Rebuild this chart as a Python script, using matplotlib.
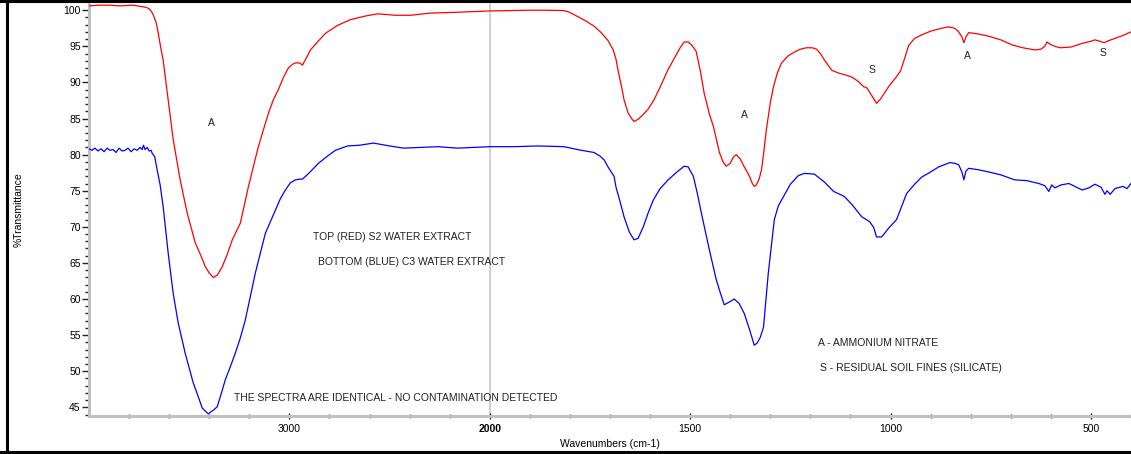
import numpy as np
import matplotlib
matplotlib.use("Agg")
import matplotlib.pyplot as plt
from matplotlib.ticker import FixedLocator, NullFormatter
from matplotlib.lines import Line2D

plt.rcParams['font.family'] = ['Liberation Sans', 'DejaVu Sans']

# ---- data ----
red_wn = [4000, 3950, 3900, 3845, 3780, 3735, 3715, 3700, 3690, 3680, 3665, 3655, 3640, 3630,
          3605, 3580, 3545, 3510, 3470, 3440, 3420, 3400, 3380, 3360, 3335, 3310, 3285, 3245,
          3205, 3155, 3105, 3080, 3055, 3030, 3005, 2985, 2970, 2950, 2935, 2915,
          2895, 2860, 2820, 2760, 2695, 2620, 2560, 2470, 2395, 2300, 2180, 2000, 1900, 1865,
          1815, 1800, 1780, 1760, 1740, 1722, 1705, 1692, 1685, 1680, 1672, 1665, 1655, 1645,
          1640, 1630, 1620, 1605, 1590, 1572, 1555, 1542, 1525, 1515, 1505, 1495, 1485, 1475,
          1465, 1452, 1442, 1427, 1418, 1410, 1400, 1392, 1385, 1375, 1365, 1352, 1345, 1340,
          1335, 1328, 1322, 1316, 1310, 1300, 1292, 1282, 1272, 1255, 1240, 1225, 1210, 1195,
          1185, 1175, 1165, 1147, 1130, 1110, 1095, 1080, 1067, 1060, 1055, 1045, 1035, 1025,
          1005, 985, 975, 965, 955, 940, 922, 900, 880, 865, 855, 840, 830, 822,
          817, 812, 805, 780, 755, 725, 697, 670, 640, 625, 615, 610, 602, 590, 577, 550,
          522, 500, 490, 478, 467, 455, 440, 420, 400]
red_t = [100.6, 100.7, 100.7, 100.6, 100.7, 100.5, 100.4, 100.2, 99.9, 99.4, 98.3, 96.9, 94.5, 93.1,
         87.6, 82.1, 76.5, 71.9, 67.8, 65.9, 64.5, 63.6, 63.0, 63.3, 64.5, 66.2, 68.2, 70.5,
         75.5, 81.1, 85.7, 87.6, 89.0, 90.7, 92.0, 92.5, 92.7, 92.7, 92.4, 93.4,
         94.5, 95.6, 96.8, 97.9, 98.7, 99.2, 99.5, 99.3, 99.3, 99.6, 99.7, 99.9, 100.0, 100.0,
         99.95, 99.7, 99.1, 98.5, 97.8, 96.9, 95.8, 94.5, 93.2, 91.7, 89.6, 87.6, 85.8, 84.9,
         84.6, 84.9, 85.4, 86.3, 87.6, 89.7, 91.8, 93.1, 94.8, 95.6, 95.6, 95.1, 94.3, 91.7,
         88.5, 85.6, 83.9, 80.3, 79.0, 78.4, 78.8, 79.7, 80.0, 79.4, 78.3, 77.0, 76.0, 75.6,
         75.8, 76.6, 77.9, 80.5, 83.4, 87.2, 89.4, 91.4, 92.7, 93.7, 94.2, 94.6, 94.8, 94.8,
         94.6, 94.0, 93.1, 91.7, 91.3, 91.0, 90.7, 90.1, 89.4, 89.3, 88.9, 88.0, 87.1, 87.7,
         89.4, 90.8, 91.6, 93.3, 95.1, 96.1, 96.6, 97.1, 97.4, 97.6, 97.7, 97.5, 97.0, 96.3,
         95.5, 96.3, 96.9, 96.7, 96.4, 95.9, 95.2, 94.8, 94.5, 94.6, 95.0, 95.6, 95.3, 95.0,
         94.8, 94.9, 95.4, 95.7, 95.9, 95.7, 95.5, 95.8, 96.1, 96.5, 97.0]

blue_wn = [4000, 3985, 3970, 3955, 3940, 3925, 3910, 3895, 3880, 3865, 3850, 3835, 3820, 3805,
           3790, 3775, 3760, 3745, 3735, 3728, 3720, 3710, 3700, 3690, 3685, 3672, 3660, 3645,
           3630, 3605, 3580, 3555, 3520, 3480, 3450, 3435, 3420, 3405, 3390, 3375, 3360, 3340,
           3320, 3295, 3270, 3245, 3220, 3170, 3120,
           3070, 3045, 3020, 2995, 2970, 2950, 2935, 2900, 2855, 2810, 2770, 2710, 2650, 2580,
           2500, 2430, 2350, 2260, 2160, 2000, 1940, 1880, 1815, 1772, 1740, 1725, 1715, 1705,
           1690, 1685, 1675, 1665, 1652, 1640, 1630, 1617, 1605, 1592, 1575, 1555, 1535, 1515,
           1505, 1492, 1482, 1472, 1452, 1435, 1425, 1415, 1402, 1390, 1378, 1365, 1352, 1340,
           1333, 1325, 1317, 1305, 1290, 1280, 1267, 1250, 1230,
           1215, 1190, 1165, 1142, 1115, 1095, 1072, 1052, 1042, 1035, 1022, 1005, 985, 960,
           940, 922, 900, 880, 852, 840, 830, 822, 817, 812, 805, 780, 755, 725, 690, 660, 630,
           615, 605, 598, 590, 575, 555, 540, 522, 505, 490, 475, 465, 460, 452, 440, 420, 410, 400]
blue_t = [80.8, 80.6, 80.9, 80.5, 80.8, 80.4, 80.9, 80.6, 80.7, 80.3, 80.9, 80.5, 80.6, 80.9,
          80.4, 80.8, 80.6, 81.0, 80.7, 81.3, 80.7, 81.0, 80.5, 80.6, 80.2, 79.7, 77.9, 75.8,
          72.8, 66.4, 60.8, 56.7, 52.5, 48.4, 46.1, 44.9, 44.5, 44.1, 44.4, 44.7, 45.1, 46.9,
          48.8, 50.6, 52.5, 54.6, 57.1, 63.6, 69.1,
          72.3, 73.9, 75.1, 76.1, 76.5, 76.6, 76.6, 77.5, 78.8, 79.8, 80.6, 81.2, 81.3, 81.6,
          81.2, 80.9, 81.0, 81.1, 80.9, 81.1, 81.1, 81.2, 81.1, 80.6, 80.3, 79.8, 79.3, 78.3,
          77.0, 75.5, 73.5, 71.4, 69.3, 68.2, 68.4, 70.0, 71.9, 73.7, 75.3, 76.5, 77.5, 78.4,
          78.3, 77.0, 74.6, 71.9, 66.8, 62.7, 60.9, 59.2, 59.6, 60.0, 59.4, 58.0, 55.8, 53.6,
          53.9, 54.7, 56.1, 63.6, 71.0, 72.9, 74.2, 75.9, 77.1,
          77.4, 77.3, 76.2, 74.9, 74.2, 73.0, 71.4, 70.7, 69.9, 68.6, 68.6, 69.8, 71.0, 74.6,
          75.9, 76.9, 77.6, 78.3, 78.9, 78.8, 78.6, 77.6, 76.5, 77.7, 78.1, 77.9, 77.6, 77.2,
          76.5, 76.4, 76.0, 75.7, 74.9, 75.8, 75.4, 75.8, 76.0, 75.6, 75.1, 75.4, 75.9, 75.5,
          74.5, 75.0, 74.5, 75.3, 75.6, 75.3, 76.0]

x_major = [3000, 2000, 1500, 1000, 500]
x_labels = ['3000', '2000', '1500', '1000', '500']
x_minor = [3800, 3600, 3400, 3200, 2800, 2600, 2400, 2200,
           1900, 1800, 1700, 1600, 1400, 1300, 1200, 1100, 900, 800, 700, 600, 400]
y_major = [45, 50, 55, 60, 65, 70, 75, 80, 85, 90, 95, 100]

annotations = [
    (3390, 84.4, 'A'), (1365, 85.5, 'A'), (1047, 91.7, 'S'), (807, 93.7, 'A'), (470, 94.1, 'S'),
]
notes = [
    (2880, 68.6, 'TOP (RED) S2 WATER EXTRACT'),
    (2855, 65.1, 'BOTTOM (BLUE) C3 WATER EXTRACT'),
    (3275, 46.3, 'THE SPECTRA ARE IDENTICAL - NO CONTAMINATION DETECTED'),
    (1180, 53.9, 'A - AMMONIUM NITRATE'),
    (1175, 50.5, 'S - RESIDUAL SOIL FINES (SILICATE)'),
]

# ---- figure ----
W, H = 1131, 454
fig = plt.figure(figsize=(W / 100, H / 100), dpi=100)
ax = fig.add_axes([89 / W, (H - 416) / H, (W - 89) / W, 413 / H])

def fwd(x):
    x = np.asarray(x, dtype=float)
    return np.where(x >= 2000, x - 2000, 2 * (x - 2000))

def inv(u):
    u = np.asarray(u, dtype=float)
    return np.where(u >= 0, u + 2000, u / 2 + 2000)

ax.set_xscale('function', functions=(fwd, inv))
ax.set_xlim(4000, 400)
ax.set_ylim(43.8, 101.0)

ax.axvline(2000, color='#c8c8c8', lw=1.2, zorder=1)
ax.plot(red_wn, red_t, color='#ff0000', lw=0.9, zorder=3)
ax.plot(blue_wn, blue_t, color='#0000ff', lw=0.9, zorder=3)

for x, y, s in annotations:
    ax.text(x, y, s, fontsize=7.5, ha='center', va='center', color='#222222')
for x, y, s in notes:
    ax.text(x, y, s, fontsize=7.5, ha='left', va='center', color='#222222')

for sp in ['top', 'right']:
    ax.spines[sp].set_visible(False)
for sp in ['left', 'bottom']:
    ax.spines[sp].set_color('#c0c0c0')
    ax.spines[sp].set_linewidth(2.2)

ax.xaxis.set_major_locator(FixedLocator(x_major))
ax.set_xticklabels(x_labels)
ax.xaxis.set_minor_locator(FixedLocator(x_minor))
ax.xaxis.set_minor_formatter(NullFormatter())
ax.yaxis.set_major_locator(FixedLocator(y_major))
ax.yaxis.set_minor_locator(FixedLocator([v for v in range(44, 101) if v % 5]))
ax.yaxis.set_minor_formatter(NullFormatter())

ax.tick_params(axis='x', which='major', direction='inout', length=5, width=1, color='#222222',
               labelsize=7.5, pad=3)
ax.tick_params(axis='x', which='minor', direction='inout', length=3, width=1, color='#222222')
ax.tick_params(axis='y', which='major', direction='out', length=5, width=1, color='#222222',
               labelsize=7.5, pad=1)
ax.tick_params(axis='y', which='minor', direction='out', length=3, width=1, color='#222222')
for lab in ax.get_xticklabels():
    if lab.get_text() == '2000':
        lab.set_fontweight('bold')

ax.set_xlabel('Wavenumbers (cm-1)', fontsize=7.5, labelpad=4)
ax.set_ylabel('%Transmittance', fontsize=7.5)
ax.yaxis.set_label_coords(-65 / (W - 89), 0.5)

# outer black frame (top, left, bottom)
fig.add_artist(Line2D([0, 1], [1 - 1.2 / H, 1 - 1.2 / H], color='black', lw=2.2, transform=fig.transFigure))
fig.add_artist(Line2D([6.8 / W, 6.8 / W], [0, 1], color='black', lw=2.2, transform=fig.transFigure))
fig.add_artist(Line2D([0, 1], [2 / H, 2 / H], color='black', lw=2.2, transform=fig.transFigure))

fig.savefig('out.png', dpi=100)
